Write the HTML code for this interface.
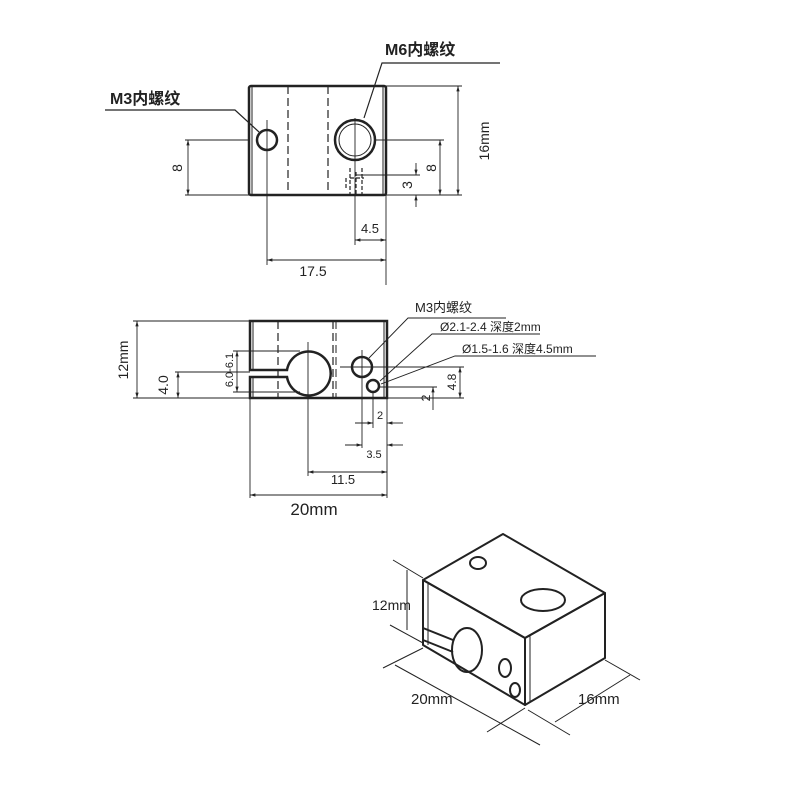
<!DOCTYPE html>
<html><head><meta charset="utf-8"><style>
html,body{margin:0;padding:0;background:#fff;}
svg{display:block;}
text{font-family:"Liberation Sans","Noto Sans CJK SC",sans-serif;fill:#222;}
</style></head><body>
<svg width="800" height="800" viewBox="0 0 800 800" xmlns="http://www.w3.org/2000/svg">
<defs>
<marker id="a" viewBox="0 0 10 10" refX="10" refY="5" markerWidth="6" markerHeight="6" orient="auto-start-reverse"><path d="M0,2 L10,5 L0,8 z" fill="#222"/></marker>
</defs>
<g stroke="#222" fill="none">
<!-- TOP VIEW -->
<rect x="249" y="86" width="137" height="109" stroke-width="2.5" rx="2"/>
<line x1="252" y1="86" x2="252" y2="195" stroke-width="1"/>
<line x1="383" y1="86" x2="383" y2="195" stroke-width="1"/>
<line x1="288" y1="86" x2="288" y2="195" stroke-width="1.2" stroke-dasharray="8,4"/>
<line x1="328" y1="86" x2="328" y2="195" stroke-width="1.2" stroke-dasharray="8,4"/>
<circle cx="267" cy="140" r="10" stroke-width="2.5"/>
<circle cx="355" cy="140" r="20" stroke-width="2.5"/>
<circle cx="355" cy="140" r="16" stroke-width="1"/>
<path d="M350,168 v27 M356,172 v23 M362,168 v27 M350,178 h14 M346,178 v12" stroke-width="1.2" stroke-dasharray="4,2"/>
<g stroke-width="0.9">
<line x1="267" y1="120" x2="267" y2="265"/>
<line x1="355" y1="118" x2="355" y2="245"/>
<line x1="386" y1="195" x2="386" y2="285"/>
<line x1="185" y1="140" x2="250" y2="140"/>
<line x1="185" y1="195" x2="250" y2="195"/>
<line x1="188" y1="140" x2="188" y2="195" marker-start="url(#a)" marker-end="url(#a)"/>
<line x1="386" y1="86" x2="462" y2="86"/>
<line x1="386" y1="195" x2="462" y2="195"/>
<line x1="458" y1="86" x2="458" y2="195" marker-start="url(#a)" marker-end="url(#a)"/>
<line x1="375" y1="140" x2="444" y2="140"/>
<line x1="440" y1="140" x2="440" y2="195" marker-start="url(#a)" marker-end="url(#a)"/>
<line x1="355" y1="175" x2="420" y2="175"/>
<line x1="416" y1="163" x2="416" y2="175" marker-end="url(#a)"/>
<line x1="416" y1="207" x2="416" y2="195" marker-end="url(#a)"/>
<line x1="355" y1="240" x2="386" y2="240" marker-start="url(#a)" marker-end="url(#a)"/>
<line x1="267" y1="260" x2="386" y2="260" marker-start="url(#a)" marker-end="url(#a)"/>
</g>
<polyline points="105,110 235,110 259,132" stroke-width="1.2"/>
<polyline points="500,63 382,63 364,118" stroke-width="1.2"/>

<!-- MIDDLE VIEW -->
<path d="M250,370 L250,321 L387,321 L387,398 L250,398 L250,377 L287,377 A22,22 0 1 0 287,370 Z" stroke-width="2.5"/>
<line x1="253" y1="321" x2="253" y2="370" stroke-width="1"/>
<line x1="253" y1="377" x2="253" y2="398" stroke-width="1"/>
<line x1="384" y1="321" x2="384" y2="398" stroke-width="1"/>
<line x1="278" y1="321" x2="278" y2="398" stroke-width="1.2" stroke-dasharray="8,4"/>
<line x1="333" y1="321" x2="333" y2="398" stroke-width="1.2" stroke-dasharray="8,4"/>
<line x1="336" y1="321" x2="336" y2="398" stroke-width="1" stroke-dasharray="8,4"/>
<circle cx="362" cy="367" r="10" stroke-width="2.5"/>
<circle cx="373" cy="386" r="6" stroke-width="2.5"/>
<g stroke-width="0.9">
<line x1="133" y1="321" x2="250" y2="321"/>
<line x1="133" y1="398" x2="250" y2="398"/>
<line x1="137" y1="321" x2="137" y2="398" marker-start="url(#a)" marker-end="url(#a)"/>
<line x1="175" y1="372" x2="250" y2="372"/>
<line x1="178" y1="372" x2="178" y2="398" marker-start="url(#a)" marker-end="url(#a)"/>
<line x1="233" y1="351" x2="300" y2="351"/>
<line x1="233" y1="392" x2="300" y2="392"/>
<line x1="237" y1="351" x2="237" y2="392" marker-start="url(#a)" marker-end="url(#a)"/>
<line x1="308" y1="342" x2="308" y2="476"/>
<line x1="362" y1="350" x2="362" y2="448"/>
<line x1="387" y1="398" x2="387" y2="498"/>
<line x1="250" y1="398" x2="250" y2="498"/>
<line x1="340" y1="367" x2="464" y2="367"/>
<line x1="380" y1="387" x2="437" y2="387"/>
<line x1="387" y1="398" x2="464" y2="398"/>
<line x1="460" y1="367" x2="460" y2="398" marker-start="url(#a)" marker-end="url(#a)"/>
<line x1="433" y1="387" x2="433" y2="410" marker-start="url(#a)"/>
<line x1="373" y1="392" x2="373" y2="428"/>
<line x1="355" y1="423" x2="373" y2="423" marker-end="url(#a)"/>
<line x1="403" y1="423" x2="387" y2="423" marker-end="url(#a)"/>
<line x1="345" y1="445" x2="362" y2="445" marker-end="url(#a)"/>
<line x1="403" y1="445" x2="387" y2="445" marker-end="url(#a)"/>
<line x1="308" y1="472" x2="387" y2="472" marker-start="url(#a)" marker-end="url(#a)"/>
<line x1="250" y1="495" x2="387" y2="495" marker-start="url(#a)" marker-end="url(#a)"/>
<polyline points="369,358 408,318 506,318"/>
<polyline points="380,381 432,334 540,334"/>
<polyline points="381,384 455,356 596,356"/>
</g>

<!-- 3D VIEW -->
<g stroke-width="2" stroke-linejoin="round">
<polygon points="423,580 503,534 605,593 525,638"/>
<polygon points="423,580 525,638 525,705 423,645"/>
<polygon points="525,638 605,593 605,658 525,705"/>
<line x1="428" y1="583" x2="428" y2="645" stroke-width="1"/>
<line x1="530" y1="636" x2="530" y2="703" stroke-width="1"/>
<ellipse cx="478" cy="563" rx="8" ry="6"/>
<ellipse cx="543" cy="600" rx="22" ry="11"/>
<path d="M423,628 L453,640 M423,640 L453,652"/>
<ellipse cx="467" cy="650" rx="15" ry="22"/>
<ellipse cx="505" cy="668" rx="6" ry="9"/>
<ellipse cx="515" cy="690" rx="5" ry="7"/>
</g>
<g stroke-width="1">
<line x1="393" y1="560" x2="423" y2="578"/>
<line x1="390" y1="625" x2="423" y2="643"/>
<line x1="407" y1="570" x2="407" y2="630"/>
<line x1="383" y1="668" x2="423" y2="648"/>
<line x1="395" y1="665" x2="540" y2="745"/>
<line x1="487" y1="732" x2="525" y2="708"/>
<line x1="528" y1="710" x2="570" y2="735"/>
<line x1="555" y1="722" x2="630" y2="675"/>
<line x1="605" y1="660" x2="640" y2="680"/>
</g>
</g>
<g font-size="14">
<text x="110" y="104" font-weight="bold" font-size="16">M3内螺纹</text>
<text x="385" y="55" font-weight="bold" font-size="16">M6内螺纹</text>
<text transform="translate(182,168) rotate(-90)" text-anchor="middle">8</text>
<text transform="translate(489,141) rotate(-90)" text-anchor="middle">16mm</text>
<text transform="translate(436,168) rotate(-90)" text-anchor="middle">8</text>
<text transform="translate(412,185) rotate(-90)" text-anchor="middle">3</text>
<text x="370" y="233" text-anchor="middle" font-size="13">4.5</text>
<text x="313" y="276" text-anchor="middle">17.5</text>

<text x="415" y="312" font-size="13">M3内螺纹</text>
<text x="440" y="331" font-size="12">Ø2.1-2.4  深度2mm</text>
<text x="462" y="353" font-size="12">Ø1.5-1.6 深度4.5mm</text>
<text transform="translate(128,360) rotate(-90)" text-anchor="middle">12mm</text>
<text transform="translate(168,385) rotate(-90)" text-anchor="middle">4.0</text>
<text transform="translate(233,370) rotate(-90)" text-anchor="middle" font-size="11">6.0-6.1</text>
<text transform="translate(456,382) rotate(-90)" text-anchor="middle" font-size="12">4.8</text>
<text transform="translate(430,398) rotate(-90)" text-anchor="middle" font-size="12">2</text>
<text x="380" y="419" text-anchor="middle" font-size="11">2</text>
<text x="374" y="458" text-anchor="middle" font-size="11">3.5</text>
<text x="343" y="484" text-anchor="middle" font-size="13">11.5</text>
<text x="314" y="515" text-anchor="middle" font-size="17">20mm</text>

<text x="372" y="610" font-size="14">12mm</text>
<text x="411" y="704" font-size="15">20mm</text>
<text x="578" y="704" font-size="15">16mm</text>
</g>
</svg>
</body></html>
